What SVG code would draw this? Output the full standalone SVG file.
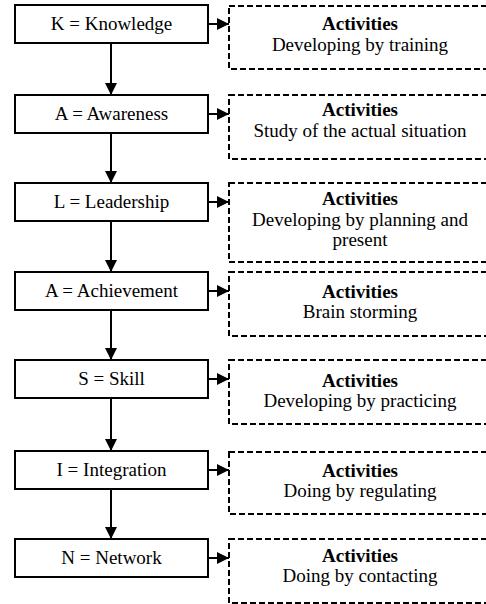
<svg xmlns="http://www.w3.org/2000/svg" width="486" height="604" viewBox="0 0 486 604">
<style>
.box{fill:#fff;stroke:#000;stroke-width:2}
.dbox{fill:#fff;stroke:#000;stroke-width:2;stroke-dasharray:6 3}
text{font-family:'Liberation Serif','DejaVu Serif',serif;font-size:19px;fill:#000;text-anchor:middle}
.b{font-weight:bold}
.c{stroke:#000;stroke-width:2;fill:none}
</style>
<defs>
<marker id="ah" viewBox="0 0 12 12" refX="12" refY="6" markerWidth="12" markerHeight="12" markerUnits="userSpaceOnUse" orient="auto">
<path d="M0,0 L12,6 L0,12 Z" fill="#000"/>
</marker>
</defs>
<rect width="486" height="604" fill="#fff"/>
<g id="connectors">
<line class="c" x1="111" y1="43" x2="111" y2="95" marker-end="url(#ah)"/>
<line class="c" x1="111" y1="133" x2="111" y2="183" marker-end="url(#ah)"/>
<line class="c" x1="111" y1="221" x2="111" y2="272" marker-end="url(#ah)"/>
<line class="c" x1="111" y1="310" x2="111" y2="360" marker-end="url(#ah)"/>
<line class="c" x1="111" y1="398" x2="111" y2="451" marker-end="url(#ah)"/>
<line class="c" x1="111" y1="489" x2="111" y2="539" marker-end="url(#ah)"/>
<line class="c" x1="208" y1="24" x2="229" y2="24" marker-end="url(#ah)"/>
<line class="c" x1="208" y1="114" x2="229" y2="114" marker-end="url(#ah)"/>
<line class="c" x1="208" y1="202" x2="229" y2="202" marker-end="url(#ah)"/>
<line class="c" x1="208" y1="291" x2="229" y2="291" marker-end="url(#ah)"/>
<line class="c" x1="208" y1="379" x2="229" y2="379" marker-end="url(#ah)"/>
<line class="c" x1="208" y1="470" x2="229" y2="470" marker-end="url(#ah)"/>
<line class="c" x1="208" y1="558" x2="229" y2="558" marker-end="url(#ah)"/>
</g>
<g font-family="'Liberation Serif', 'DejaVu Serif', serif">
<g id="n-k"><rect class="box" x="15" y="5" width="193" height="38"/><text x="111.5" y="30">K = Knowledge</text></g>
<g id="n-a1"><rect class="box" x="15" y="95" width="193" height="38"/><text x="111.5" y="120">A = Awareness</text></g>
<g id="n-l"><rect class="box" x="15" y="183" width="193" height="38"/><text x="111.5" y="208">L = Leadership</text></g>
<g id="n-a2"><rect class="box" x="15" y="272" width="193" height="38"/><text x="111.5" y="297">A = Achievement</text></g>
<g id="n-s"><rect class="box" x="15" y="360" width="193" height="38"/><text x="111.5" y="385">S = Skill</text></g>
<g id="n-i"><rect class="box" x="15" y="451" width="193" height="38"/><text x="111.5" y="476">I = Integration</text></g>
<g id="n-n"><rect class="box" x="15" y="539" width="193" height="38"/><text x="111.5" y="564">N = Network</text></g>
<g id="act-k"><rect class="dbox" x="229" y="6" width="265" height="63"/><text class="b" x="360" y="30">Activities</text><text x="360" y="51">Developing by training</text></g>
<g id="act-a1"><rect class="dbox" x="229" y="95" width="265" height="64"/><text class="b" x="360" y="116">Activities</text><text x="360" y="137">Study of the actual situation</text></g>
<g id="act-l"><rect class="dbox" x="229" y="183" width="265" height="79"/><text class="b" x="360" y="205">Activities</text><text x="360" y="225.5">Developing by planning and</text><text x="360" y="246">present</text></g>
<g id="act-a2"><rect class="dbox" x="229" y="272" width="265" height="64"/><text class="b" x="360" y="298">Activities</text><text x="360" y="318">Brain storming</text></g>
<g id="act-s"><rect class="dbox" x="229" y="360" width="265" height="64"/><text class="b" x="360" y="387">Activities</text><text x="360" y="407">Developing by practicing</text></g>
<g id="act-i"><rect class="dbox" x="229" y="452" width="265" height="62"/><text class="b" x="360" y="477">Activities</text><text x="360" y="497">Doing by regulating</text></g>
<g id="act-n"><rect class="dbox" x="229" y="539" width="265" height="64"/><text class="b" x="360" y="562">Activities</text><text x="360" y="582">Doing by contacting</text></g>
</g>
</svg>
